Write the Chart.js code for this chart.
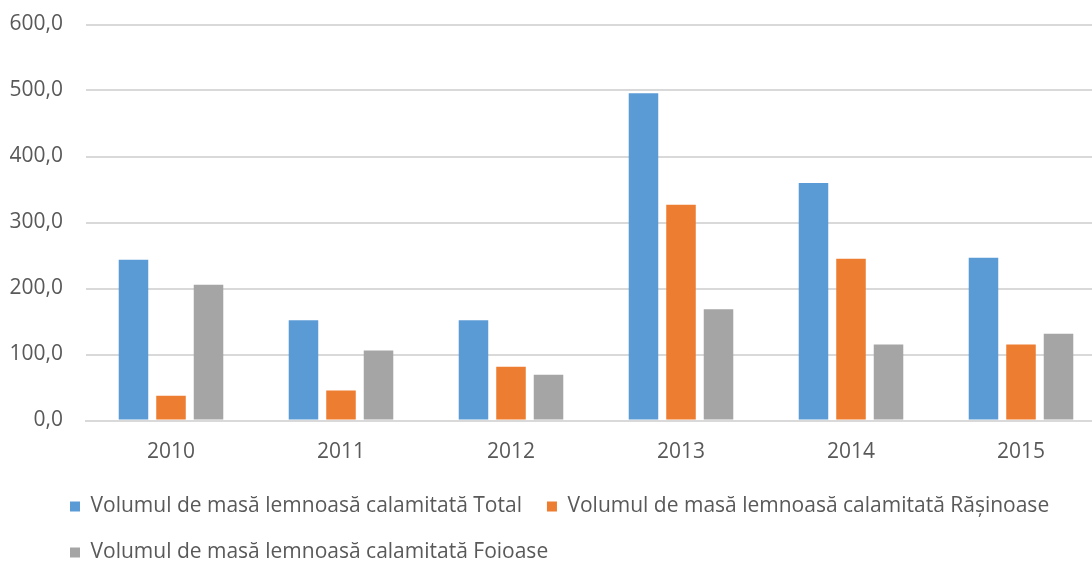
<!DOCTYPE html>
<html>
<head>
<meta charset="utf-8">
<script src="https://cdn.jsdelivr.net/npm/chart.js@4"></script>
<style>
  html, body { margin: 0; padding: 0; background: #fff; overflow: hidden; }
  #wrap { width: 1106px; height: 561px; }
</style>
</head>
<body>
<div id="wrap"><canvas id="chart"></canvas></div>
<script>
const years = ["2010", "2011", "2012", "2013", "2014", "2015"];
const total = [243.5, 152, 152, 496, 360, 246.5];
const rasinoase = [37.5, 45.5, 81.5, 327, 245, 115];
const foioase = [205.5, 106, 69.5, 168.5, 115, 131.5];
const seriesNames = [
  "Volumul de masă lemnoasă calamitată Total",
  "Volumul de masă lemnoasă calamitată Rășinoase",
  "Volumul de masă lemnoasă calamitată Foioase",
];
const colors = ["#5B9BD5", "#ED7D31", "#A5A5A5"];

Chart.defaults.font.family = "'Open Sans', sans-serif";
Chart.defaults.font.size = 21;
Chart.defaults.color = "#595959";

// push the legend to the right, as in the original
const legendShift = {
  id: "legendShift",
  afterLayout(chart) {
    chart.legend.left = 45;
  },
};

var ctx = document.getElementById("chart").getContext("2d");
var chart = new Chart(ctx, {
  type: "bar",
  data: {
    labels: years,
    datasets: [total, rasinoase, foioase].map((d, i) => ({
      label: seriesNames[i],
      data: d,
      backgroundColor: colors[i],
      categoryPercentage: 0.662,
      barPercentage: 0.787,
    })),
  },
  options: {
    responsive: true,
    maintainAspectRatio: false,
    animation: false,
    layout: { padding: { top: 0, left: 10, right: 0, bottom: -12 } },
    plugins: {
      legend: {
        position: "bottom",
        align: "start",
        labels: { boxWidth: 10, boxHeight: 10, padding: 25 },
      },
      tooltip: { enabled: false },
    },
    scales: {
      x: {
        grid: { display: false, drawTicks: false },
        border: { color: "#d9d9d9", width: 2 },
        ticks: { padding: 19 },
        afterFit: (scale) => {
          scale.height = 50.5;
        },
      },
      y: {
        min: 0,
        max: 600,
        border: { display: false },
        grid: { color: "#d9d9d9", lineWidth: 2, drawTicks: false },
        ticks: {
          stepSize: 100,
          padding: 23,
          callback: (v) => v.toFixed(1).replace(".", ","),
        },
        afterFit: (scale) => {
          scale.width = 76;
          scale.paddingTop = 24.5;
          scale.paddingBottom = 12;
        },
      },
    },
  },
  plugins: [legendShift],
});
</script>
</body>
</html>
